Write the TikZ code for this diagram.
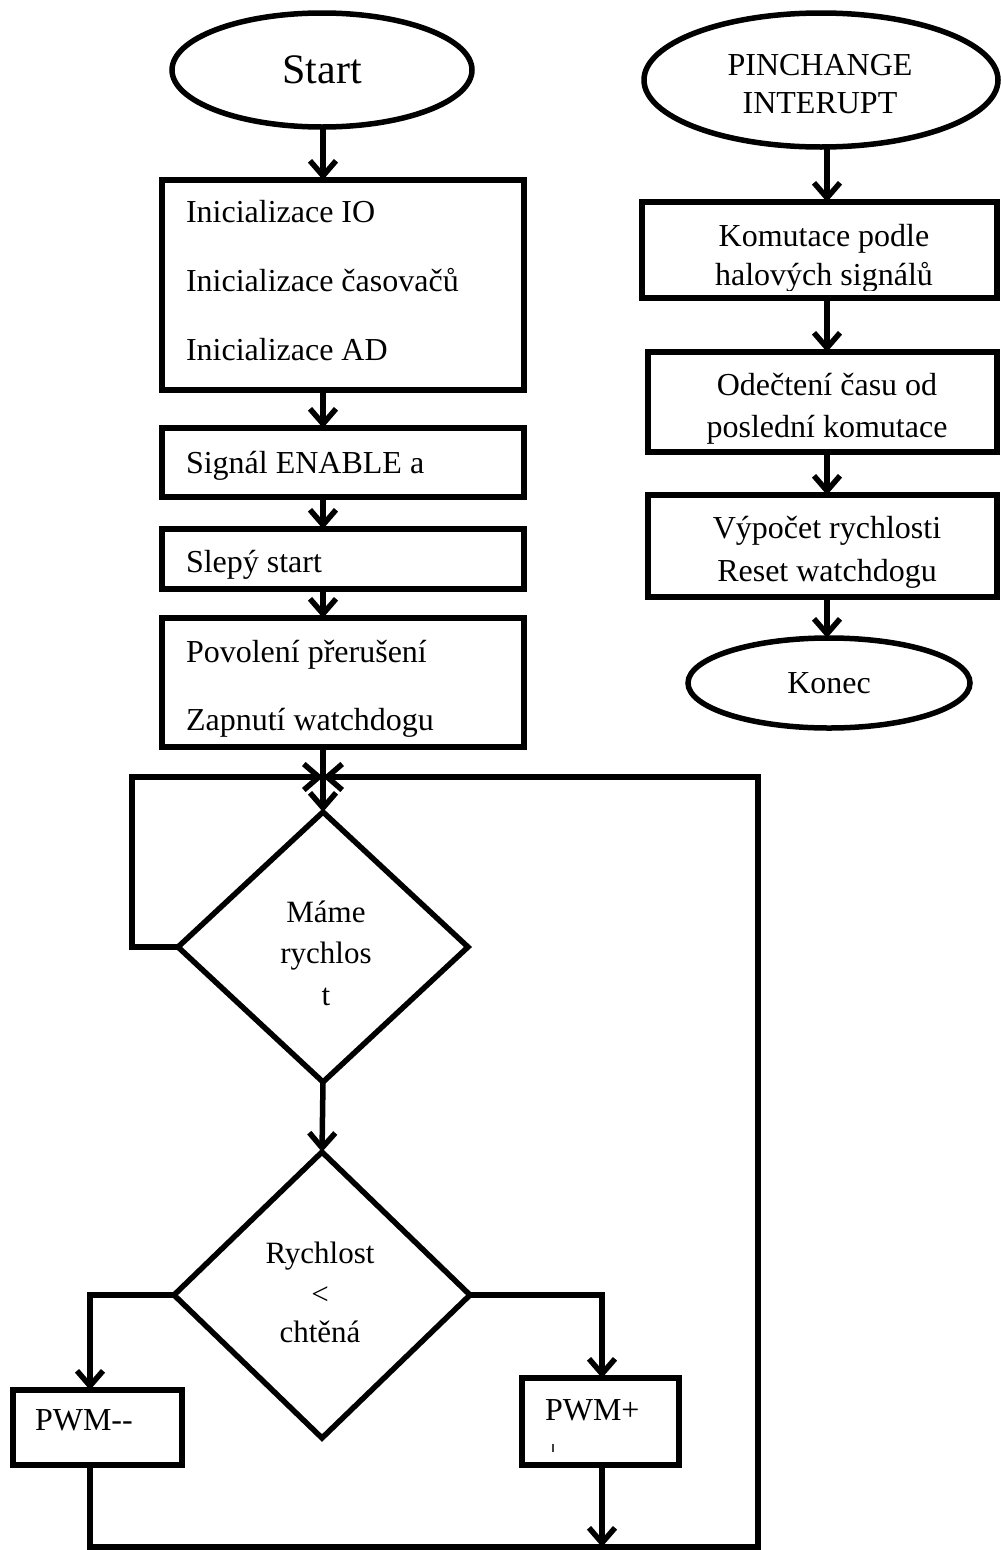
\documentclass[tikz,border=0pt]{standalone}
\usepackage{fontspec}
\setmainfont{Liberation Serif}
\usetikzlibrary{shapes.geometric,arrows.meta}

\begin{document}
\begin{tikzpicture}[x=1pt,y=-1pt,
  line width=5.5pt,
  every node/.style={inner sep=0pt, outer sep=0pt},
  proc/.style={draw, rectangle, line width=5.5pt},
  term/.style={draw, ellipse, line width=5.5pt},
  cond/.style={draw, diamond, line width=5.5pt},
  txt/.style={font=\fontsize{32}{38}\selectfont},
  dtxt/.style={font=\fontsize{31}{36}\selectfont, anchor=base},
  arr/.style={-{Straight Barb[length=15pt,width=26pt]}},
]
\useasboundingbox (0,0) rectangle (1001,1550);

% guide columns for the vertical connectors
\coordinate (lc) at (323,0);
\coordinate (rc) at (827,0);
\coordinate (lb) at (90,0);
\coordinate (rb) at (602,0);

% main program: shapes
\node[term, minimum width=300pt, minimum height=114pt, font=\fontsize{42}{50}\selectfont] (start) at (322,70) {Start};
\node[proc, minimum width=362pt, minimum height=210pt] (init) at (343,285) {};
\node[proc, minimum width=362pt, minimum height=69pt] (ena) at (343,462.5) {};
\node[proc, minimum width=362pt, minimum height=60pt] (slep) at (343,559) {};
\node[proc, minimum width=362pt, minimum height=129pt] (pov) at (343,682.5) {};
\node[cond, minimum width=290pt, minimum height=270pt] (d1) at (323,947) {};
\node[cond, minimum width=296pt, minimum height=286pt] (d2) at (322,1295) {};
\node[proc, minimum width=169pt, minimum height=75pt] (pwmm) at (97.5,1427.5) {};
\node[proc, minimum width=157pt, minimum height=87pt] (pwmp) at (600.5,1421.5) {};

% main program: texts
\node[txt, anchor=base west] (ti1) at (186,222) {Inicializace IO};
\node[txt, anchor=base west] (ti2) at (186,291) {Inicializace časovačů};
\node[txt, anchor=base west] (ti3) at (186,360) {Inicializace AD};
\node[txt, anchor=base west] (ten) at (186,473) {Signál ENABLE a};
\node[txt, anchor=base west] (tsl) at (186,572) {Slepý start};
\node[txt, anchor=base west] (tp1) at (186,662) {Povolení přerušení};
\node[txt, anchor=base west] (tp2) at (186,730) {Zapnutí watchdogu};
\node[dtxt] (tm1) at (326,922) {Máme};
\node[dtxt] (tm2) at (326,963) {rychlos};
\node[dtxt] (tm3) at (326,1005) {t};
\node[dtxt] (tr1) at (320,1263) {Rychlost};
\node[dtxt] (tr2) at (320,1304) {<};
\node[dtxt] (tr3) at (320,1342) {chtěná};
\node[txt, anchor=base west] (tpm) at (35,1430) {PWM-{}-};
\node[txt, anchor=base west] (tpp) at (545,1420) {PWM+};
\node[fill=black!75, minimum width=2pt, minimum height=8pt] (tick) at (553,1448) {};

% loop corners
\coordinate (jn) at (323,777);
\coordinate (ltop) at (132,777);
\coordinate (rtop) at (758,777);
\coordinate (rbot) at (758,1547);

% main program: connectors
\draw[arr] (start.south -| lc) -- (init.north -| lc);
\draw[arr] (init.south -| lc) -- (ena.north -| lc);
\draw[arr] (ena.south -| lc) -- (slep.north -| lc);
\draw[arr] (slep.south -| lc) -- (pov.north -| lc);
\draw[arr] (pov.south -| lc) -- (d1.north);
\draw[arr] (d1.west) -| (ltop) -- (jn);
\draw[arr] (d1.south) -- (d2.north);
\draw[arr] (d2.west) -| (pwmm.north -| lb);
\draw[arr] (d2.east) -| (pwmp.north -| rb);
\draw[arr] (pwmm.south -| lb) |- (rbot) -- (rtop) -- (jn);
\draw[arr] (pwmp.south -| rb) -- (rb |- rbot);

% interrupt routine: shapes
\node[term, minimum width=354pt, minimum height=134pt] (pin) at (821,80) {};
\node[proc, minimum width=355pt, minimum height=96pt] (kom) at (819.5,250) {};
\node[proc, minimum width=349pt, minimum height=100pt] (ode) at (822.5,402) {};
\node[proc, minimum width=349pt, minimum height=102pt] (vyp) at (822.5,546) {};
\node[term, minimum width=282pt, minimum height=90pt, txt] (kon) at (829,683) {Konec};

% interrupt routine: texts
\node[txt, anchor=base] (tpin1) at (820,75) {PINCHANGE};
\node[txt, anchor=base] (tpin2) at (820,113) {INTERUPT};
\begin{scope}
  \clip (642,202) rectangle (997,290);
  \node[txt, anchor=base] (tk1) at (824,246) {Komutace podle};
  \node[txt, anchor=base] (tk2) at (824,285) {halových signálů};
\end{scope}
\node[txt, anchor=base] (to1) at (827,395) {Odečtení času od};
\node[txt, anchor=base] (to2) at (827,437) {poslední komutace};
\node[txt, anchor=base] (tv1) at (827,538) {Výpočet rychlosti};
\node[txt, anchor=base] (tv2) at (827,581) {Reset watchdogu};

% interrupt routine: connectors
\draw[arr] (pin.south -| rc) -- (kom.north -| rc);
\draw[arr] (kom.south -| rc) -- (ode.north -| rc);
\draw[arr] (ode.south -| rc) -- (vyp.north -| rc);
\draw[arr] (vyp.south -| rc) -- (kon.north -| rc);
\end{tikzpicture}
\end{document}
